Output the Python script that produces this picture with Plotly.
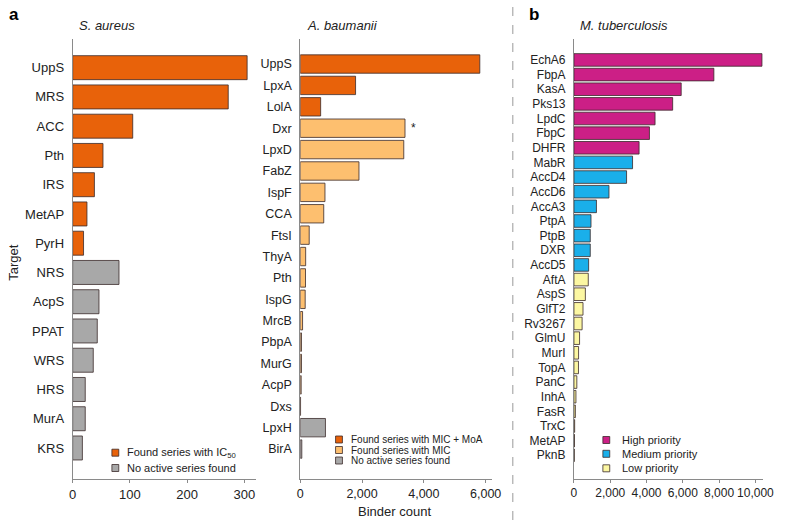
import plotly.graph_objects as go

W, H = 788, 520

# --- data ---
sa_targets = ["UppS", "MRS", "ACC", "Pth", "IRS", "MetAP", "PyrH",
              "NRS", "AcpS", "PPAT", "WRS", "HRS", "MurA", "KRS"]
sa_counts = [305, 272, 105, 53, 38, 25, 19, 81, 46, 43, 36, 22, 22, 17]
sa_groups = ["ic50"] * 7 + ["none"] * 7

ab_targets = ["UppS", "LpxA", "LolA", "Dxr", "LpxD", "FabZ", "IspF", "CCA",
              "FtsI", "ThyA", "Pth", "IspG", "MrcB", "PbpA", "MurG", "AcpP",
              "Dxs", "LpxH", "BirA"]
ab_counts = [5810, 1790, 660, 3390, 3350, 1900, 800, 760, 290, 175, 170, 160,
             75, 40, 40, 30, 10, 815, 50]
ab_groups = ["moa"] * 3 + ["mic"] * 14 + ["none"] * 2

mtb_targets = ["EchA6", "FbpA", "KasA", "Pks13", "LpdC", "FbpC", "DHFR",
               "MabR", "AccD4", "AccD6", "AccA3", "PtpA", "PtpB", "DXR", "AccD5",
               "AftA", "AspS", "GlfT2", "Rv3267", "GlmU", "MurI", "TopA", "PanC",
               "InhA", "FasR", "TrxC", "MetAP", "PknB"]
mtb_counts = [10360, 7710, 5910, 5440, 4470, 4160, 3590,
              3230, 2900, 1930, 1240, 940, 900, 900, 810,
              790, 630, 500, 450, 310, 255, 250, 160, 110, 80, 40, 30, 20]
mtb_groups = ["high"] * 7 + ["medium"] * 8 + ["low"] * 13

COLORS = {
    "ic50": "#E8620A", "moa": "#E8620A", "mic": "#FDBF6F", "none": "#A8A8A8",
    "high": "#CC1F86", "medium": "#1AAFEA", "low": "#FCF7A2",
}
LABELS = {
    "ic50": "Found series with IC<sub>50</sub>", "none": "No active series found",
    "moa": "Found series with MIC + MoA", "mic": "Found series with MIC",
    "high": "High priority", "medium": "Medium priority", "low": "Low priority",
}
OUTLINE = "#3a2a2a"
AXIS = "#8a8a8a"
FONT = "Liberation Sans, Arial, Helvetica, sans-serif"


def px(x, y):
    return x / W, 1 - y / H


panels = [
    dict(t=sa_targets, v=sa_counts, g=sa_groups, xd=(70, 257), rng=[0, 320.7],
         ticks=[0, 100, 200, 300], pad=(0.98, 1.06), width=0.82, fs=13,
         title="S. aureus", tx=74),
    dict(t=ab_targets, v=ab_counts, g=ab_groups, xd=(302, 497), rng=[0, 6190],
         ticks=[0, 2000, 4000, 6000], pad=(1.17, 1.40), width=0.86, fs=12.5,
         title="A. baumanii", tx=307),
    dict(t=mtb_targets, v=mtb_counts, g=mtb_groups, xd=(581, 774), rng=[0, 10432],
         ticks=[0, 2000, 4000, 6000, 8000, 10000], pad=(1.43, 1.62), width=0.86,
         fs=12, title="M. tuberculosis", tx=585),
]

fig = go.Figure()
layout = {}
y_top, y_bot = 39, 479

for i, p in enumerate(panels, start=1):
    sfx = "" if i == 1 else str(i)
    fig.add_trace(go.Bar(
        x=p["v"], y=p["t"], orientation="h", width=p["width"],
        marker=dict(color=[COLORS[g] for g in p["g"]],
                    line=dict(color=OUTLINE, width=0.8)),
        xaxis="x" + sfx, yaxis="y" + sfx, showlegend=False,
    ))
    n = len(p["t"])
    layout["xaxis" + sfx] = dict(
        domain=[p["xd"][0] / W, p["xd"][1] / W], anchor="y" + sfx,
        range=p["rng"], tickvals=p["ticks"],
        ticktext=[f"{t:,}" for t in p["ticks"]],
        showline=True, linecolor=AXIS, linewidth=1, ticks="outside",
        ticklen=3, tickcolor=AXIS, showgrid=False, zeroline=False,
        tickfont=dict(size=p["fs"] if i > 1 else 13, color="#222"),
    )
    layout["yaxis" + sfx] = dict(
        domain=[1 - y_bot / H, 1 - y_top / H], anchor="x" + sfx,
        type="category", categoryarray=p["t"],
        range=[n - 1 + p["pad"][1], -p["pad"][0]],
        showline=True, linecolor=AXIS, linewidth=1, ticks="",
        showgrid=False, zeroline=False, ticklabelstandoff=5,
        tickfont=dict(size=p["fs"], color="#222"),
    )

annotations = []
shapes = []

# panel titles
for p in panels:
    x, y = px(p["tx"], 25)
    annotations.append(dict(x=x, y=y, xref="paper", yref="paper",
                            text=f"<i>{p['title']}</i>", showarrow=False,
                            xanchor="left", yanchor="middle",
                            font=dict(size=13, color="#222")))

# panel letters
for letter, lx in [("a", 3), ("b", 533)]:
    x, y = px(lx, 14)
    annotations.append(dict(x=x, y=y, xref="paper", yref="paper",
                            text=f"<b>{letter}</b>", showarrow=False,
                            xanchor="left", yanchor="middle",
                            font=dict(size=17, color="#000")))

# axis titles
x, y = px(9, 262)
annotations.append(dict(x=x, y=y, xref="paper", yref="paper", text="Target",
                        textangle=-90, showarrow=False, xanchor="center",
                        yanchor="middle", font=dict(size=13, color="#222")))
x, y = px(398, 511)
annotations.append(dict(x=x, y=y, xref="paper", yref="paper", text="Binder count",
                        showarrow=False, xanchor="center", yanchor="middle",
                        font=dict(size=13, color="#222")))

# asterisk on Dxr
annotations.append(dict(x=ab_counts[3], y="Dxr", xref="x2", yref="y2", text="*",
                        showarrow=False, xanchor="left", yanchor="middle",
                        xshift=4, font=dict(size=12, color="#222")))

# legends drawn as squares + text
legends = [
    (["ic50", "none"], 113.5, [452.7, 468.0], 123, 11),
    (["moa", "mic", "none"], 341.5, [439.5, 450.0, 460.5], 351.5, 10),
    (["high", "medium", "low"], 614, [440.0, 453.8, 468.3], 628, 11),
]
for keys, sx, ys, tx, fs in legends:
    for k, yy in zip(keys, ys):
        x0, y0 = px(sx - 3.5, yy + 3.5)
        x1, y1 = px(sx + 3.5, yy - 3.5)
        shapes.append(dict(type="rect", xref="paper", yref="paper",
                           x0=x0, x1=x1, y0=y0, y1=y1, fillcolor=COLORS[k],
                           line=dict(color=OUTLINE, width=0.8)))
        x, y = px(tx, yy)
        annotations.append(dict(x=x, y=y, xref="paper", yref="paper",
                                text=LABELS[k], showarrow=False, xanchor="left",
                                yanchor="middle", font=dict(size=fs, color="#222")))

# dashed separator between panels a and b
shapes.append(dict(type="line", xref="paper", yref="paper",
                   x0=518.7 / W, x1=518.7 / W, y0=0, y1=1,
                   line=dict(color="#9a9a9a", width=1, dash="dash")))

fig.update_layout(
    width=W, height=H, margin=dict(l=0, r=0, t=0, b=0),
    paper_bgcolor="white", plot_bgcolor="white",
    font=dict(family=FONT, color="#222"),
    bargap=0.15, annotations=annotations, shapes=shapes,
    **layout,
)

# the page's default body margin would push the figure 8px off the corner
fig.write_html("out.html", config={"displayModeBar": False},
               post_script="document.body.style.margin='0';")
